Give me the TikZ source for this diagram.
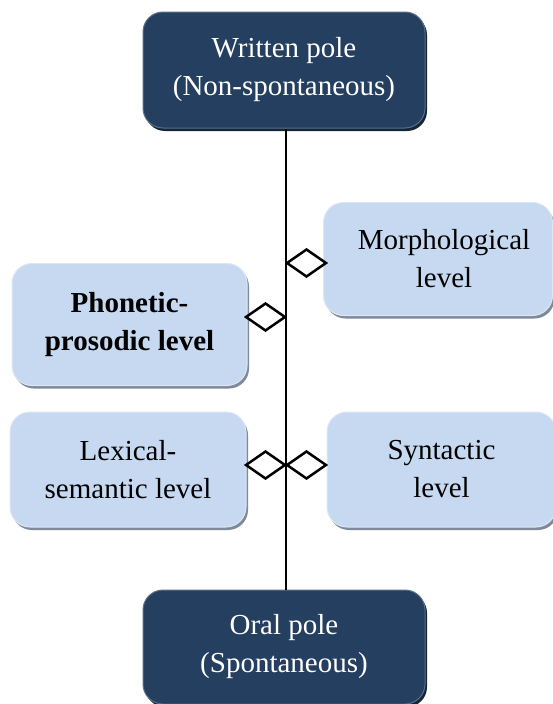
\documentclass[tikz,border=0pt]{standalone}
\usepackage{fontspec}
\setmainfont{Liberation Serif}
\usetikzlibrary{shapes.geometric,shadows}

\definecolor{poleFill}{HTML}{243F60}
\definecolor{poleRim}{HTML}{5B6F88}
\definecolor{poleShadow}{HTML}{15253A}
\definecolor{levelFill}{HTML}{C6D9F1}
\definecolor{levelRim}{HTML}{DCE7F5}
\definecolor{levelShadow}{HTML}{7E8999}

\tikzset{
  boxtext/.style={font=\fontsize{29}{38}\selectfont, align=center, inner sep=0pt},
  polebox/.style={boxtext, rectangle, rounded corners=20pt, fill=poleFill,
    draw=poleRim, line width=1pt, text=white,
    drop shadow={shadow xshift=2pt, shadow yshift=-3pt, fill=poleShadow, opacity=1}},
  levelbox/.style={boxtext, rectangle, rounded corners=20pt, fill=levelFill,
    draw=levelRim, line width=1pt, text=black,
    drop shadow={shadow xshift=2pt, shadow yshift=-3pt, fill=levelShadow, opacity=1}},
  spine/.style={draw=black, line width=2pt},
  agg/.style={diamond, draw=black, fill=white, line width=2.5pt, inner sep=0pt,
    minimum width=40pt, minimum height=28pt}
}

\begin{document}
\begin{tikzpicture}[x=1pt, y=-1pt]
  \useasboundingbox (0,0) rectangle (553,704);

  % the two poles of the continuum
  \node[polebox, minimum width=282pt, minimum height=116pt] (written) at (284,70)
    {Written pole\\(Non-spontaneous)};
  \node[polebox, minimum width=282pt, minimum height=114pt] (oral) at (284,647)
    {Oral pole\\(Spontaneous)};

  % the linguistic levels
  \node[levelbox, minimum width=229pt, minimum height=113pt] (morph) at (438,259)
    {\hspace*{12pt}Morphological\\\hspace*{12pt}level};
  \node[levelbox, minimum width=235pt, minimum height=122pt] (phon) at (129.5,324.5)
    {\bfseries Phonetic-\\\bfseries prosodic level};
  \node[levelbox, minimum width=236pt, minimum height=115pt] (lex) at (128,469.5)
    {Lexical-\\semantic level};
  \node[levelbox, minimum width=229pt, minimum height=115pt] (syn) at (441.5,469.5)
    {Syntactic\\level};

  % vertical axis between the poles
  \draw[spine] ([xshift=2pt]written.south) -- ([xshift=2pt]oral.north);

  % aggregation diamonds joining each level to the axis
  \node[agg] (dmorph) at (306.5,263) {};
  \node[agg] (dphon)  at (265.5,317) {};
  \node[agg] (dlex)   at (265.5,465) {};
  \node[agg] (dsyn)   at (306.5,465) {};
\end{tikzpicture}
\end{document}
